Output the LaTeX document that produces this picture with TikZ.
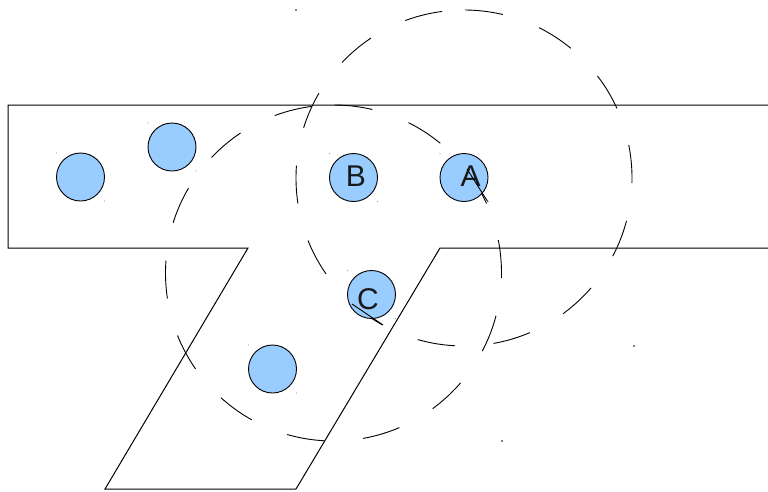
\documentclass[tikz,border=0pt]{standalone}
\usepackage{fontspec}
\setmainfont{Liberation Sans}
\definecolor{ballblue}{HTML}{99CCFF}
\begin{document}
\begin{tikzpicture}[x=1pt,y=-1pt,
  ball/.style={circle,draw=black,line width=0.9pt,fill=ballblue,minimum size=48pt,inner sep=0pt},
  lbl/.style={font=\fontsize{30}{30}\selectfont,inner sep=0pt,text=black!90},
  edge/.style={line width=1pt,line join=miter},
  ring/.style={line width=0.9pt,dash pattern=on 38pt off 38.5pt,dash phase=54.5pt},
  stroke/.style={line width=0.9pt},
  speck/.style={fill=black},
  faint/.style={fill=black!35}]
\useasboundingbox (0,0) rectangle (768,491);
% outline of the shape
\draw[edge] (768,105) -- (8,105) -- (8,248) -- (248,248) -- (105,489) -- (296,489) -- (440,248) -- (768,248);
% dashed rings
\coordinate (ringA) at (464,178);
\coordinate (ringC) at (333.5,273);
\draw[ring] (464,10) arc[start angle=-90,end angle=-450,radius=168];
\draw[ring] (333.5,105) arc[start angle=-90,end angle=-450,radius=168];
% balls
\node[ball] (p1) at (80.5,177) {};
\node[ball] (p2) at (172,147) {};
\node[ball] (pB) at (353.5,177.5) {};
\node[ball] (pA) at (464,177.5) {};
\node[ball] (pC) at (371.5,294.5) {};
\node[ball] (p6) at (272.5,369) {};
% labels
\node[lbl] (lB) at (356,176.5) {B};
\node[lbl] (lA) at (470.5,176) {A};
\node[lbl] (lC) at (368,299) {C};
% stray strokes
\coordinate (a1) at (467,169);
\coordinate (a2) at (488,202);
\coordinate (c1) at (352,304);
\coordinate (c2) at (383,325);
\draw[stroke] (a1) -- (a2);
\draw[stroke] (c1) -- (c2);
% specks at bounding corners
\fill[speck] (296,10) circle[radius=0.8];
\fill[speck] (634,346) circle[radius=0.8];
\fill[speck] (502,441) circle[radius=0.8];
\foreach \cx/\cy in {80.5/177,172/147,353.5/177.5,464/177.5,371.5/294.5,272.5/369}{
  \fill[faint] (\cx-24,\cy-24) circle[radius=0.6];
  \fill[faint] (\cx+24,\cy+24) circle[radius=0.6];
}
\end{tikzpicture}
\end{document}
